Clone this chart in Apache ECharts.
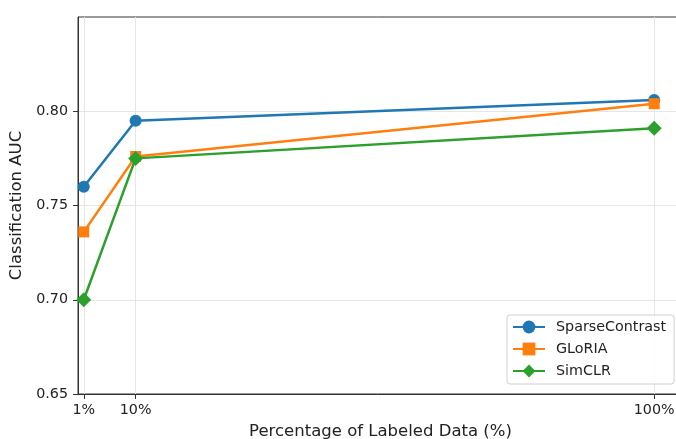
<!DOCTYPE html>
<html>
<head>
<meta charset="utf-8">
<script src="https://cdn.jsdelivr.net/npm/echarts@6/dist/echarts.min.js"></script>
<style>
html,body{margin:0;padding:0;background:#fff;}
#chart{width:676px;height:439px;}
</style>
</head>
<body>
<div id="chart"></div>
<script>
const xValues = [1, 10, 100];
const xTicks = [1, 10, 100];
const yTicks = [0.65, 0.70, 0.75, 0.80];
const seriesNames = ['SparseContrast', 'GLoRIA', 'SimCLR'];
const sparseContrast = [0.760, 0.795, 0.806];
const gloria = [0.736, 0.776, 0.804];
const simclr = [0.700, 0.775, 0.791];

const colors = ['#1f77b4', '#ff7f0e', '#2ca02c'];
const symbols = ['circle', 'rect', 'diamond'];
const sizes = [12, 11, 15];
const allData = [sparseContrast, gloria, simclr];
const FONT = 'DejaVu Sans';

const chart = echarts.init(document.getElementById('chart'), null, {renderer: 'canvas'});
chart.setOption({
  animation: false,
  backgroundColor: '#fff',
  grid: {left: 78, top: 17, width: 605, height: 377, show: true, borderColor: '#333', borderWidth: 1,
         containLabel: false, outerBoundsMode: 'none'},
  xAxis: {
    type: 'value', min: 0, max: 105,
    name: 'Percentage of Labeled Data (%)', nameLocation: 'middle', nameGap: 29,
    nameTextStyle: {fontFamily: FONT, fontSize: 16.5, color: '#222'},
    axisLine: {show: true, lineStyle: {color: '#333', width: 1}},
    axisTick: {show: true, length: 5, customValues: xTicks, lineStyle: {color: '#333'}},
    axisLabel: {customValues: xTicks, formatter: v => v + '%', margin: 9, fontFamily: FONT, fontSize: 14.3, color: '#222'},
    splitLine: {show: true, lineStyle: {color: '#e6e6e6', width: 1}}
  },
  yAxis: {
    type: 'value', min: 0.65, max: 0.85,
    name: 'Classification AUC', nameLocation: 'middle', nameGap: 49,
    nameTextStyle: {fontFamily: FONT, fontSize: 16.5, color: '#222'},
    axisLine: {show: true, lineStyle: {color: '#333', width: 1}},
    axisTick: {show: true, length: 5, customValues: yTicks, lineStyle: {color: '#333'}},
    axisLabel: {customValues: yTicks, formatter: v => v.toFixed(2), margin: 10, fontFamily: FONT, fontSize: 14.3, color: '#222'},
    splitLine: {show: true, lineStyle: {color: '#e6e6e6', width: 1}}
  },
  legend: {
    orient: 'vertical', left: 507, top: 315,
    data: seriesNames,
    itemWidth: 32, itemHeight: 16, itemGap: 8,
    padding: [5, 8, 6, 5],
    backgroundColor: 'rgba(255,255,255,0.85)',
    borderColor: '#d0d0d0', borderWidth: 1, borderRadius: 3,
    textStyle: {fontFamily: FONT, fontSize: 14.3, color: '#222', padding: [0, 0, 0, 6]}
  },
  series: seriesNames.map((name, i) => ({
    name: name, type: 'line',
    data: xValues.map((x, j) => [x, allData[i][j]]),
    symbol: symbols[i], symbolSize: sizes[i],
    itemStyle: {color: colors[i]},
    lineStyle: {color: colors[i], width: 2.5},
    emphasis: {disabled: true}
  }))
});
</script>
</body>
</html>
